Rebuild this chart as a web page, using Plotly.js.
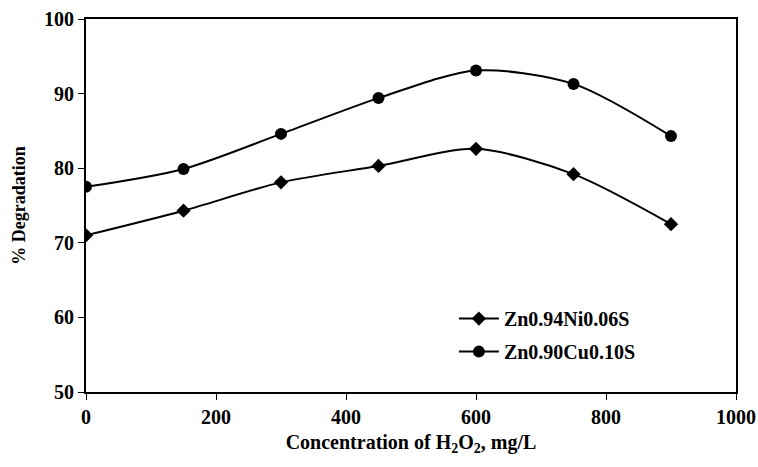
<!DOCTYPE html>
<html><head><meta charset="utf-8">
<script src="https://cdn.plot.ly/plotly-3.0.1.min.js"></script>
<style>html,body{margin:0;padding:0;background:#fff}#chart{width:758px;height:467px}</style>
</head><body><div id="chart"></div>
<script>
const concentration = [0, 150, 300, 450, 600, 750, 900];
const niSeries = [71.0, 74.3, 78.1, 80.3, 82.6, 79.2, 72.5];
const cuSeries = [77.5, 79.9, 84.6, 89.4, 93.1, 91.3, 84.3];
const seriesNames = ["Zn0.94Ni0.06S", "Zn0.90Cu0.10S"];

const font = "Liberation Serif";
const traces = [
  {x: concentration, y: niSeries, name: seriesNames[0], mode: "lines+markers", legendgroup: "a",
   line: {color: "#000", width: 2, shape: "spline", smoothing: 0.8},
   marker: {symbol: "diamond", size: 11, color: "#000"}},
  {x: concentration, y: cuSeries, name: seriesNames[1], mode: "lines+markers", legendgroup: "b",
   line: {color: "#000", width: 2, shape: "spline", smoothing: 0.8},
   marker: {symbol: "circle", size: 12, color: "#000"}}
];
const layout = {
  width: 758, height: 467,
  margin: {l: 86, r: 22, t: 19, b: 75},
  paper_bgcolor: "#fff", plot_bgcolor: "#fff",
  font: {family: font, color: "#000", size: 20},
  showlegend: true,
  legend: {x: 0.566, y: 0.249, xanchor: "left", yanchor: "top", bgcolor: "rgba(0,0,0,0)",
           traceorder: "grouped", tracegroupgap: 4,
           font: {family: font, size: 20, weight: "bold"}, itemwidth: 40},
  xaxis: {range: [0, 1000], dtick: 200, tick0: 0, showgrid: false, zeroline: false,
          showline: true, linecolor: "#000", linewidth: 2, mirror: true,
          ticks: "outside", ticklen: 6, tickwidth: 1, tickcolor: "#000",
          tickfont: {family: font, size: 20, weight: "bold"},
          title: {text: "<b>Concentration of H<sub>2</sub>O<sub>2</sub>, mg/L</b>", font: {family: font, size: 20}, standoff: 8}},
  yaxis: {range: [50, 100], dtick: 10, tick0: 50, showgrid: false, zeroline: false,
          showline: true, linecolor: "#000", linewidth: 2, mirror: true,
          ticks: "outside", ticklen: 6, tickwidth: 1, tickcolor: "#000",
          tickfont: {family: font, size: 20, weight: "bold"},
          title: {text: "<b>% Degradation</b>", font: {family: font, size: 18}, standoff: 14}}
};
Plotly.newPlot("chart", traces, layout, {displayModeBar: false, staticPlot: true});
</script></body></html>
